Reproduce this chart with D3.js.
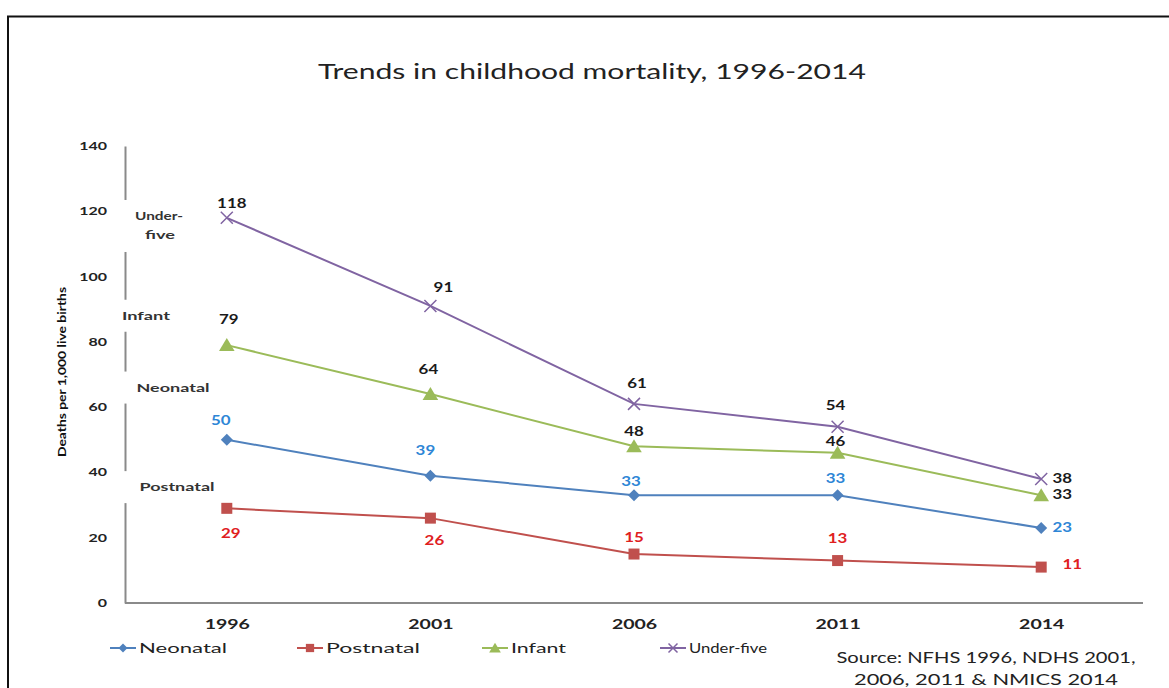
<!DOCTYPE html>
<html><head><meta charset="utf-8">
<script src="https://cdn.jsdelivr.net/npm/d3@7"></script>
<style>
html,body{margin:0;padding:0;background:#fff;}
svg{display:block;font-family:Lato,"Open Sans",sans-serif;}
</style></head>
<body>
<svg id="chart" width="1169" height="688"></svg>
<script>
const years = ["1996","2001","2006","2011","2014"];
const neonatal = [50,39,33,33,23];
const postnatal = [29,26,15,13,11];
const infant = [79,64,48,46,33];
const underFive = [118,91,61,54,38];
const yTicks = [0,20,40,60,80,100,120,140];
const axisLabels = [
  {lines:["Under-","five"], v:115.5},
  {lines:["Infant"], v:88},
  {lines:["Neonatal"], v:66},
  {lines:["Postnatal"], v:35.5}
];
const titleText = "Trends in childhood mortality, 1996-2014";
const yTitle = "Deaths per 1,000 live births";
const sourceLines = ["Source: NFHS 1996, NDHS 2001,","2006, 2011 & NMICS 2014"];

// label offsets (styling) per series per point [dx,dy]
const series = [
  {name:"Neonatal", values:neonatal, color:"#4F81BD", labelColor:"#2E86D6", marker:"diamond",
   off:[[-6,-19],[-5,-25],[-3,-13],[-2,-16],[21,0]]},
  {name:"Postnatal", values:postnatal, color:"#C0504D", labelColor:"#E0201E", marker:"square",
   off:[[4,26],[4,23],[0,-16],[0,-22],[31,-2]]},
  {name:"Infant", values:infant, color:"#9BBB59", labelColor:"#1a1a1a", marker:"triangle",
   off:[[2,-25],[-2,-24],[0,-14],[-2,-11],[21,0]]},
  {name:"Under-five", values:underFive, color:"#8064A2", labelColor:"#1a1a1a", marker:"x",
   off:[[5,-14],[13,-18],[3,-20],[-2,-21],[21,0]]}
];

function stretch(sel, f){
  sel.each(function(){
    const w = this.getComputedTextLength();
    d3.select(this).attr("textLength", w*f).attr("lengthAdjust","spacingAndGlyphs");
  });
}
function fitTo(sel, w){
  sel.attr("textLength", w).attr("lengthAdjust","spacingAndGlyphs");
}

const svg = d3.select("#chart");
svg.append("rect").attr("x",8).attr("y",16.5).attr("width",1175).attr("height",690)
  .attr("fill","none").attr("stroke","#111").attr("stroke-width",2);

const x0=125, x1=1143, yTop=146, yBot=603;
const x = d3.scalePoint().domain(years).range([x0,x1]).padding(0.5);
const y = d3.scaleLinear().domain([0,140]).range([yBot,yTop]);

fitTo(svg.append("text").attr("x",592).attr("y",79).attr("text-anchor","middle")
  .attr("font-size",21).attr("fill","#222").text(titleText), 548);

// y axis
const yAxis = svg.append("g").attr("transform",`translate(${x0},0)`)
  .call(d3.axisLeft(y).tickValues(yTicks).tickSize(0).tickPadding(18));
yAxis.select(".domain").attr("stroke","#8a8a8a").attr("stroke-width",2);
yAxis.selectAll("text").attr("font-family","Lato,sans-serif").attr("font-size",11).attr("font-weight","bold").attr("fill","#222");
stretch(yAxis.selectAll("text"), 1.45);

// x axis
const xAxis = svg.append("g").attr("transform",`translate(0,${yBot})`)
  .call(d3.axisBottom(x).tickSize(0).tickPadding(17));
xAxis.select(".domain").attr("d",`M${x0},0H${x1}`).attr("stroke","#8a8a8a").attr("stroke-width",2);
xAxis.selectAll("text").attr("font-family","Lato,sans-serif").attr("font-size",13).attr("font-weight","bold").attr("fill","#222");
stretch(xAxis.selectAll("text"), 1.5);

// labels on y axis with white background
const al = svg.append("g");
const alCx = {"Under-":159,"five":160,"Infant":146,"Neonatal":173,"Postnatal":177};
const alW = {"Under-":48,"five":30,"Infant":48,"Neonatal":73,"Postnatal":75};
axisLabels.forEach(d=>{
  const cy = y(d.v);
  const n = d.lines.length;
  const g = al.append("g");
  g.append("rect").attr("x",x0-4).attr("y",cy-n*10-6).attr("width",8).attr("height",n*20+12).attr("fill","#fff");
  d.lines.forEach((t,i)=>{
    fitTo(g.append("text").attr("x",alCx[t]).attr("y",cy+(i-(n-1)/2)*19+4)
      .attr("text-anchor","middle").attr("font-size",11.5).attr("font-weight","bold").attr("fill","#333").text(t), alW[t]);
  });
});

fitTo(svg.append("text").attr("transform","translate(66,372) rotate(-90)").attr("text-anchor","middle")
  .attr("font-size",12).attr("font-weight","bold").attr("fill","#111").text(yTitle), 170);

function marker(sel, type, color, size){
  if(type==="diamond"){
    const s=size/2;
    sel.append("path").attr("d",`M0,${-s}L${s},0L0,${s}L${-s},0Z`).attr("fill",color);
  } else if(type==="square"){
    sel.append("rect").attr("x",-size/2).attr("y",-size/2).attr("width",size).attr("height",size).attr("fill",color);
  } else if(type==="triangle"){
    sel.append("path").attr("d",`M0,${-size*0.55}L${size*0.6},${size*0.45}L${-size*0.6},${size*0.45}Z`).attr("fill",color);
  } else {
    const s=size/2;
    sel.append("path").attr("d",`M${-s},${-s}L${s},${s}M${-s},${s}L${s},${-s}`).attr("stroke",color).attr("stroke-width",1.5).attr("fill","none");
  }
}
const sizes={diamond:12,square:11,triangle:13,x:12};

const line = d3.line().x((d,i)=>x(years[i])).y(d=>y(d));
series.forEach(s=>{
  const g = svg.append("g");
  g.append("path").attr("d",line(s.values)).attr("fill","none").attr("stroke",s.color).attr("stroke-width",2);
  s.values.forEach((v,i)=>{
    const m = g.append("g").attr("transform",`translate(${x(years[i])},${y(v)})`);
    marker(m, s.marker, s.color, sizes[s.marker]);
  });
  s.values.forEach((v,i)=>{
    stretch(g.append("text").attr("x",x(years[i])+s.off[i][0]).attr("y",y(v)+s.off[i][1]+4)
      .attr("text-anchor","middle").attr("font-size",12.5).attr("font-weight","bold").attr("fill",s.labelColor).text(v), 1.35);
  });
});

// legend
const legX=[110,297,482,660];
const legW=[88,94,55,78];
series.forEach((s,i)=>{
  const g = svg.append("g").attr("transform",`translate(${legX[i]},648)`);
  g.append("line").attr("x1",0).attr("x2",26).attr("stroke",s.color).attr("stroke-width",2);
  const m = g.append("g").attr("transform","translate(13,0)");
  marker(m, s.marker, s.color, sizes[s.marker]*0.75);
  fitTo(g.append("text").attr("x",29).attr("y",5).attr("font-size",14).attr("fill","#222").text(s.name), legW[i]);
});

// source
const srcW=[299,264];
sourceLines.forEach((t,i)=>{
  fitTo(svg.append("text").attr("x",986).attr("y",663+i*22).attr("text-anchor","middle")
    .attr("font-size",14.5).attr("fill","#222").text(t), srcW[i]);
});
</script>
</body></html>
